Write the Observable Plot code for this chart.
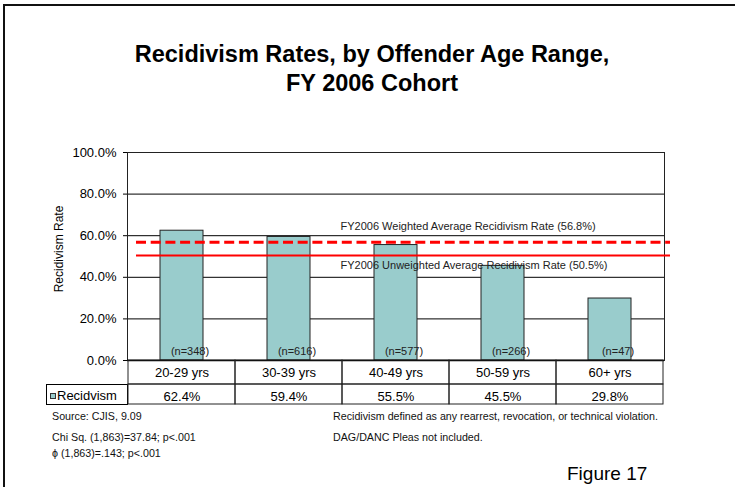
<!DOCTYPE html>
<html>
<head>
<meta charset="utf-8">
<script src="https://cdn.jsdelivr.net/npm/d3@7"></script>
<script src="https://cdn.jsdelivr.net/npm/@observablehq/plot@0.6"></script>
<style>
  html, body { margin: 0; padding: 0; background: #fff; overflow: hidden; }
  #page { position: relative; width: 735px; height: 487px; overflow: hidden;
          font-family: "Liberation Sans", Arial, Helvetica, sans-serif; color: #000; }
  #page svg { position: absolute; left: 0; top: 0; }
  .border { position: absolute; left: 3px; top: 4px; width: 900px; height: 700px;
            border: 2px solid #111; box-sizing: border-box; }
  .t { position: absolute; white-space: nowrap; line-height: 1; }
  .title { position: absolute; left: 0; top: 40px; width: 744px; text-align: center;
           font-weight: bold; font-size: 23.5px; line-height: 29px; }
  .note { font-size: 10.7px; color: #111; }
  .legend-cell { position: absolute; left: 46px; top: 384px; width: 82px; height: 21px;
                 border: 1px solid #000; box-sizing: border-box; }
  .swatch { position: absolute; left: 50px; top: 393px; width: 6px; height: 6px;
            background: #99cccc; border: 1px solid #333; box-sizing: border-box; }
</style>
</head>
<body>
<div id="page">
  <div class="border"></div>
  <div class="title">Recidivism Rates, by Offender Age Range,<br>FY 2006 Cohort</div>
  <div class="legend-cell"></div>
  <div class="swatch"></div>
  <div class="t" style="left:57px; top:389px; font-size:13px;">Recidvism</div>
  <div class="t note" style="left:52px; top:411px;">Source: CJIS, 9.09</div>
  <div class="t note" style="left:52px; top:432px;">Chi Sq. (1,863)=37.84; p&lt;.001</div>
  <div class="t note" style="left:52px; top:448px;">ϕ (1,863)=.143; p&lt;.001</div>
  <div class="t note" style="left:333px; top:411px;">Recidivism defined as any rearrest, revocation, or technical violation.</div>
  <div class="t note" style="left:333px; top:432px;">DAG/DANC Pleas not included.</div>
  <div class="t" style="left:567px; top:464px; font-size:19px;">Figure 17</div>
</div>
<script>
// Recidivism rate by offender age range, FY 2006 cohort
const ageRanges = ["20-29 yrs", "30-39 yrs", "40-49 yrs", "50-59 yrs", "60+ yrs"];
const recidivismRates = [62.4, 59.4, 55.5, 45.5, 29.8];
const cohortSizes = [348, 616, 577, 266, 47];
const weightedAverage = 56.8;
const unweightedAverage = 50.5;
const yTicks = [0, 20, 40, 60, 80, 100];

const rows = ageRanges.map((age, i) => ({age, rate: recidivismRates[i], n: cohortSizes[i]}));
const pct = v => v.toFixed(1) + "%";

const plot = Plot.plot({
  width: 735,
  height: 487,
  marginLeft: 127,
  marginRight: 71,
  marginTop: 152,
  marginBottom: 127,
  style: {fontFamily: '"Liberation Sans", Arial, sans-serif', fontSize: "13px", color: "#000", background: "transparent", overflow: "visible"},
  x: {domain: ageRanges, padding: 0, axis: null},
  y: {domain: [0, 100], axis: null},
  marks: [
    Plot.gridY(yTicks, {stroke: "#000", strokeOpacity: 1, strokeWidth: 1}),
    Plot.barY(rows, {x: "age", y: "rate", fill: "#99cccc", stroke: "#222", strokeWidth: 1, insetLeft: 32, insetRight: 32}),
    Plot.frame({stroke: "#222"}),
    Plot.axisY(yTicks, {tickFormat: pct, tickSize: 4, tickPadding: 7, fontSize: 13, label: null, stroke: "#000"}),
    Plot.ruleY([0], {stroke: "#000", strokeWidth: 1.5}),
    // n counts at the foot of each bar
    Plot.text(rows, {x: "age", frameAnchor: "bottom", dx: 8, dy: -6, textAnchor: "middle", lineAnchor: "bottom",
                     text: d => `(n=${d.n})`, fontSize: 11, fill: "#222"}),
    // cohort averages
    Plot.ruleY([weightedAverage], {stroke: "#ff0000", strokeWidth: 3, strokeDasharray: "10,4.7", insetLeft: 9, insetRight: -6}),
    Plot.ruleY([unweightedAverage], {stroke: "#ff0000", strokeWidth: 2, insetLeft: 9, insetRight: -6}),
    Plot.text([weightedAverage], {y: d => d, frameAnchor: "left", dx: 213, dy: -12, textAnchor: "start", lineAnchor: "bottom",
                                  text: d => `FY2006 Weighted Average Recidivism Rate (${pct(d)})`, fontSize: 11, fill: "#222"}),
    Plot.text([unweightedAverage], {y: d => d, frameAnchor: "left", dx: 213, dy: 13.6, textAnchor: "start", lineAnchor: "bottom",
                                    text: d => `FY2006 Unweighted Average Recidivism Rate (${pct(d)})`, fontSize: 11, fill: "#222"}),
    // y axis title
    Plot.text(["Recidivism Rate"], {frameAnchor: "left", rotate: -90, dx: -68, dy: -7.5, textAnchor: "middle", lineAnchor: "middle",
                                    text: d => d, fontSize: 12}),
    // data table under the chart
    Plot.cell(rows, {x: "age", fill: "none", stroke: "#222", insetTop: 208, insetBottom: -24}),
    Plot.cell(rows, {x: "age", fill: "none", stroke: "#222", insetTop: 232, insetBottom: -44}),
    Plot.text(rows, {x: "age", frameAnchor: "bottom", dy: 16.5, textAnchor: "middle", lineAnchor: "bottom", text: "age", fontSize: 13}),
    Plot.text(rows, {x: "age", frameAnchor: "bottom", dy: 40, textAnchor: "middle", lineAnchor: "bottom", text: d => pct(d.rate), fontSize: 13})
  ]
});

document.getElementById("page").appendChild(plot);
</script>
</body>
</html>
